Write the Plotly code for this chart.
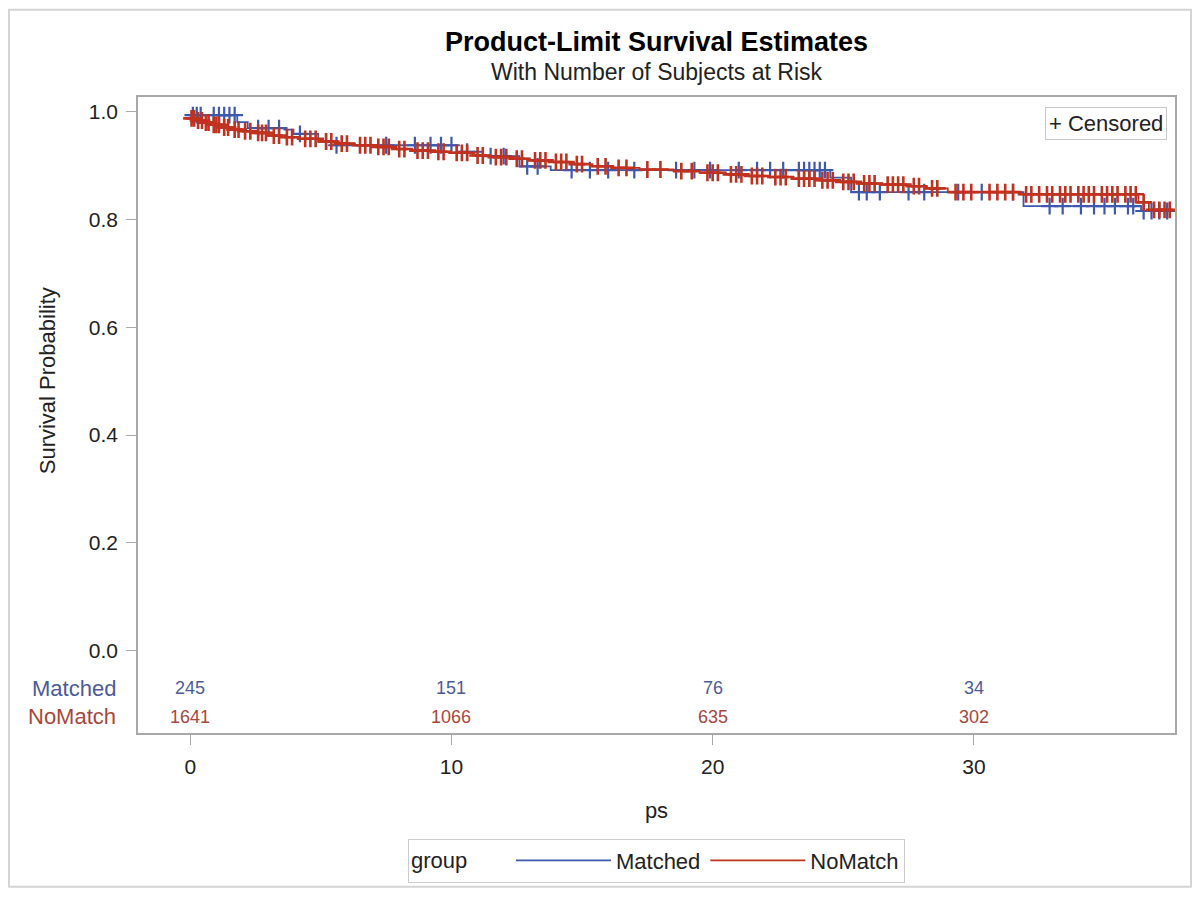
import numpy as np
import plotly.graph_objects as go

# ---------------- data ----------------
groups = ["Matched", "NoMatch"]

matched_t = [0, 1.8, 2.2, 3.6, 3.95, 4.9, 5.4, 10.2, 11.2, 12.6, 13.8, 24.5, 25.3, 31.9, 36.4]
matched_s = [0.994, 0.981, 0.970, 0.967, 0.959, 0.945, 0.938, 0.926, 0.918, 0.899, 0.892,
             0.878, 0.851, 0.825, 0.816]
matched_cens = [0.1, 0.25, 0.4, 0.9, 1.1, 1.3, 1.5, 1.7, 2.6, 3.0, 3.4, 4.2, 5.2, 5.6, 7.5,
                8.6, 9.2, 9.6, 10.0, 10.6, 11.5, 12.0, 12.9, 13.3, 14.6, 15.3, 16.0, 17.0,
                18.6, 19.3, 19.9, 21.0, 21.7, 22.2, 22.7, 23.3, 23.5, 23.7, 23.9, 24.1, 24.3,
                25.6, 25.9, 26.4, 27.5, 28.1, 29.4, 30.3, 31.5, 32.9, 33.4, 34.1, 34.6, 35.0,
                35.4, 35.9, 36.1, 36.5, 36.8, 37.1, 37.4]
matched_end = 37.7

nomatch_t = [0, 0.2, 0.5, 0.8, 1.2, 1.6, 2.0, 2.5, 3.0, 3.5, 4.2, 5.0, 5.6, 6.3, 7.0, 7.8,
             8.5, 9.3, 10.0, 10.8, 11.5, 12.3, 13.0, 13.8, 14.6, 15.4, 16.2, 17.2, 18.5,
             19.5, 20.5, 21.3, 22.2, 23.1, 24.0, 24.8, 25.6, 26.5, 27.5, 28.2, 29.0, 31.8,
             36.3, 36.7]
nomatch_s = [0.988, 0.984, 0.980, 0.976, 0.971, 0.967, 0.964, 0.961, 0.956, 0.953, 0.950,
             0.945, 0.941, 0.938, 0.935, 0.931, 0.928, 0.926, 0.924, 0.919, 0.916, 0.913,
             0.910, 0.907, 0.903, 0.899, 0.896, 0.893, 0.890, 0.887, 0.884, 0.881, 0.879,
             0.876, 0.873, 0.870, 0.867, 0.865, 0.862, 0.858, 0.851, 0.847, 0.832, 0.818]
nomatch_cens = [0.05, 0.15, 0.3, 0.45, 0.6, 0.7, 0.9, 1.0, 1.1, 1.3, 1.45, 1.7, 1.85, 2.1,
                2.3, 2.6, 2.75, 2.9, 3.2, 3.4, 3.7, 3.9, 4.4, 4.6, 4.8, 5.2, 5.4, 5.8, 6.0,
                6.5, 6.7, 6.9, 7.2, 7.4, 7.6, 8.0, 8.2, 8.7, 8.9, 9.1, 9.5, 9.7, 10.2, 10.4,
                10.6, 11.0, 11.2, 11.7, 11.9, 12.1, 12.5, 12.7, 13.2, 13.4, 13.6, 14.0, 14.2,
                14.4, 14.8, 15.0, 15.6, 15.9, 16.4, 16.7, 17.5, 18.0, 18.8, 19.2, 19.8, 20.0,
                20.2, 20.7, 20.9, 21.1, 21.5, 21.7, 21.9, 22.4, 22.6, 22.8, 23.3, 23.5, 23.7,
                23.9, 24.2, 24.4, 24.6, 25.0, 25.2, 25.4, 25.8, 26.0, 26.2, 26.7, 26.9, 27.1,
                27.3, 27.7, 27.9, 28.4, 28.6, 29.3, 29.6, 29.9, 30.6, 30.9, 31.2, 31.5, 32.0,
                32.2, 32.5, 32.8, 33.0, 33.3, 33.5, 33.7, 34.0, 34.2, 34.4, 34.6, 34.9, 35.1,
                35.3, 35.5, 35.8, 36.0, 36.2, 36.5, 36.9, 37.1, 37.3, 37.5]
nomatch_end = 37.7

risk_times = [0, 10, 20, 30]
risk_matched = [245, 151, 76, 34]
risk_nomatch = [1641, 1066, 635, 302]

x_ticks = [0, 10, 20, 30]
y_ticks = [0.0, 0.2, 0.4, 0.6, 0.8, 1.0]

title_text = "Product-Limit Survival Estimates"
subtitle_text = "With Number of Subjects at Risk"
x_title = "ps"
y_title = "Survival Probability"
legend_title = "group"
censor_label = "+ Censored"

# ---------------- styling ----------------
FONT = "Liberation Sans, Arial, sans-serif"
BLUE = "#3D58AC"
RED = "#C0321F"
BLUE_TXT = "#4B5B98"
RED_TXT = "#A9463C"
TXT = "#222222"
FRAME = "#a8a8a8"

# page is rendered with an 8px body margin, so the figure is laid out in
# figure pixels = page pixels - 8
W, H = 1184, 886
L, R, T, B = 130, 17, 89, 156
PH = H - T - B  # 641
PW = W - L - R  # 1037


def surv_at(times, surv, pts):
    idx = np.searchsorted(np.asarray(times), np.asarray(pts), side="right") - 1
    return np.asarray(surv)[idx]


fig = go.Figure()

series = [
    ("Matched", matched_t, matched_s, matched_cens, matched_end, BLUE, 2.2),
    ("NoMatch", nomatch_t, nomatch_s, nomatch_cens, nomatch_end, RED, 2.6),
]

for name, t, s, c, end, col, mw in series:
    xs = list(t) + [end]
    ys = list(s) + [s[-1]]
    fig.add_trace(go.Scatter(
        x=xs, y=ys, mode="lines", name=name,
        line=dict(color=col, width=1.8, shape="hv"),
        legendgroup=name, showlegend=True,
    ))
    fig.add_trace(go.Scatter(
        x=c, y=surv_at(t, s, c), mode="markers", name=name + " censored",
        marker=dict(symbol="cross-thin", size=12, line=dict(color=col, width=mw)),
        legendgroup=name, showlegend=False, hoverinfo="x+y",
    ))

annotations = []
# subtitle
annotations.append(dict(
    text=subtitle_text, xref="paper", yref="paper", x=0.5, y=(730 - 64) / PH,
    xanchor="center", yanchor="middle", showarrow=False,
    font=dict(family=FONT, size=23, color=TXT)))
# y axis title centred on 0..1
annotations.append(dict(
    text=y_title, xref="paper", yref="y", x=0, y=0.5, xshift=-91,
    xanchor="center", yanchor="middle", textangle=-90, showarrow=False,
    font=dict(family=FONT, size=22, color=TXT)))
# censored legend
annotations.append(dict(
    text=censor_label, xref="paper", yref="paper", x=0.9925, y=0.984,
    xanchor="right", yanchor="top", showarrow=False,
    bordercolor="#c8c8c8", borderwidth=1, borderpad=3, bgcolor="white",
    font=dict(family=FONT, size=22, color=TXT)))
# at-risk table
row_y = {"Matched": -0.070, "NoMatch": -0.123}
row_col = {"Matched": BLUE_TXT, "NoMatch": RED_TXT}
for g in groups:
    annotations.append(dict(
        text=g, xref="paper", yref="y", x=0, y=row_y[g], xshift=-20,
        xanchor="right", yanchor="middle", showarrow=False,
        font=dict(family=FONT, size=22, color=row_col[g])))
for tt, a, b in zip(risk_times, risk_matched, risk_nomatch):
    annotations.append(dict(
        text=str(a), x=tt, y=row_y["Matched"], xref="x", yref="y",
        xanchor="center", yanchor="middle", showarrow=False,
        font=dict(family=FONT, size=18, color=BLUE_TXT)))
    annotations.append(dict(
        text=str(b), x=tt, y=row_y["NoMatch"], xref="x", yref="y",
        xanchor="center", yanchor="middle", showarrow=False,
        font=dict(family=FONT, size=18, color=RED_TXT)))

fig.update_layout(
    width=W, height=H,
    margin=dict(l=L, r=R, t=T, b=B),
    paper_bgcolor="white", plot_bgcolor="white",
    font=dict(family=FONT, size=21, color=TXT),
    title=dict(text="<b>" + title_text + "</b>", x=(L + PW / 2) / W, xanchor="center",
               y=1 - 34 / H, yanchor="middle",
               font=dict(family=FONT, size=27, color="#000000")),
    xaxis=dict(range=[-2.0, 37.7], tickvals=x_ticks, ticks="outside", ticklen=10,
               tickcolor=FRAME, showline=True, linecolor=FRAME, linewidth=1.5, mirror=True,
               showgrid=False, zeroline=False, tickfont=dict(size=21, color=TXT),
               ticklabelstandoff=4,
               title=dict(text=x_title, standoff=26, font=dict(size=22, color=TXT))),
    yaxis=dict(range=[-0.1529, 1.0276], tickvals=y_ticks, tickformat=".1f", ticks="outside",
               ticklen=10, tickcolor=FRAME, showline=True, linecolor=FRAME, linewidth=1.5,
               mirror=True, showgrid=False, zeroline=False, ticklabelstandoff=4,
               tickfont=dict(size=21, color=TXT)),
    legend=dict(orientation="h", x=0.5, xanchor="center", y=-0.166, yanchor="top",
                title=dict(text=legend_title + "      ", side="left",
                           font=dict(size=22, color=TXT)),
                bordercolor="#cccccc", borderwidth=1, itemwidth=95,
                font=dict(size=22, color=TXT), bgcolor="white"),
    annotations=annotations,
    shapes=[dict(type="rect", xref="paper", yref="paper",
                 x0=(1 - L) / PW, x1=(W - 1 - L) / PW,
                 y0=(730 - (H - 1)) / PH, y1=(730 - 1) / PH,
                 line=dict(color="#d4d4d4", width=2), layer="below")],
    showlegend=True,
)

fig.write_html("out.html")
